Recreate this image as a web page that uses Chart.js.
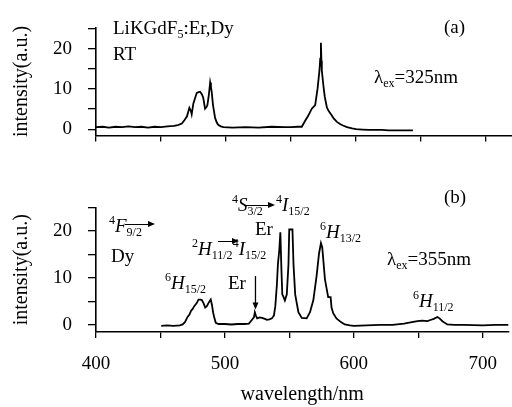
<!DOCTYPE html>
<html><head><meta charset="utf-8">
<script src="https://cdn.jsdelivr.net/npm/chart.js@4/dist/chart.umd.min.js"></script>
<style>
html,body{margin:0;padding:0;background:#fff;}
#wrap{position:relative;width:512px;height:407px;overflow:hidden;font-family:"Liberation Serif","Times New Roman",serif;color:#000;}
#ca{position:absolute;left:0;top:0;}
#cb{position:absolute;left:0;top:180px;}
.t{position:absolute;white-space:nowrap;font-size:19px;line-height:1;}
.t i{font-style:italic;}
.sp{position:relative;font-size:12px;top:-8px;}
.sb{position:relative;font-size:12px;top:4px;}
.ar{position:absolute;height:0;border-top:1.3px solid #000;}
.ar::after{content:"";position:absolute;right:-2px;top:-4px;border-left:7px solid #000;border-top:3px solid transparent;border-bottom:3px solid transparent;}
</style>
</head><body>
<div id="wrap">
<canvas id="ca" width="512" height="163"></canvas>
<canvas id="cb" width="512" height="227"></canvas>

<div class="t" style="left:113px;top:18px">LiKGdF<span class="sb">5</span>:Er,Dy</div>
<div class="t" style="left:113px;top:44px">RT</div>
<div class="t" style="left:444px;top:17px">(a)</div>
<div class="t" style="left:374px;top:67px">λ<span class="sb">ex</span>=325nm</div>

<div class="t" style="left:444px;top:187px">(b)</div>
<div class="t" style="left:109px;top:216px"><span class="sp">4</span><i>F</i><span class="sb">9/2</span></div>
<div class="ar" style="left:125px;top:224px;width:28px"></div>
<div class="t" style="left:111px;top:246px">Dy</div>
<div class="t" style="left:192px;top:239px"><span class="sp">2</span><i>H</i><span class="sb">11/2</span><span class="sp">4</span><i>I</i><span class="sb">15/2</span></div>
<div class="ar" style="left:218px;top:241px;width:19px"></div>
<div class="t" style="left:228px;top:273px">Er</div>
<div class="t" style="left:165px;top:273px"><span class="sp">6</span><i>H</i><span class="sb">15/2</span></div>
<div class="t" style="left:232px;top:195px"><span class="sp">4</span><i>S</i><span class="sb">3/2</span></div>
<div class="ar" style="left:245px;top:205px;width:28px"></div>
<div class="t" style="left:276px;top:195px"><span class="sp">4</span><i>I</i><span class="sb">15/2</span></div>
<div class="t" style="left:255px;top:219px">Er</div>
<div class="t" style="left:320px;top:222px"><span class="sp">6</span><i>H</i><span class="sb">13/2</span></div>
<div class="t" style="left:387px;top:249px">λ<span class="sb">ex</span>=355nm</div>
<div class="t" style="left:413px;top:291px"><span class="sp">6</span><i>H</i><span class="sb">11/2</span></div>
</div>
<script>
// ---- data (panel a, excitation 325 nm) ----
const wavelengthA = [400,405,410,415,420,425,430,435,440,445,450,455,460,463,466,468,470,471.8,473,473.6,474.9,476,477.5,479,480,481.4,482.5,483.9,485,485.7,486.8,487.8,488.4,489,490,491.6,493,494,496,498,505,515,525,535,545,550,555,558.3,560.9,563,566,568.6,570.4,571.9,572.5,573,573.4,573.7,575,576,577.6,579,581.4,583,585.3,588,590,593,597,600,605,610,615,620,625,630,635,640,643.8];
const intensityA = [0.5,0.6,0.4,0.6,0.5,0.7,0.5,0.6,0.4,0.6,0.5,0.7,0.8,1.0,1.4,2.2,3.2,5.3,4.5,3.7,6.4,7.5,9.0,9.2,9.3,8.7,7.8,5.1,5.5,6.0,8.5,11.6,10.5,9.3,6.0,2.8,1.6,1.1,0.7,0.5,0.4,0.5,0.4,0.6,0.5,0.5,0.6,0.6,2.1,3.2,5.1,6.0,10,14.6,17.5,21.5,17,14.6,10.6,8.0,5.4,4.5,3.4,2.6,1.8,1.2,0.9,0.5,0.2,0,-0.1,-0.2,-0.2,-0.2,-0.3,-0.3,-0.3,-0.3,-0.3];
// ---- data (panel b, excitation 355 nm) ----
const wavelengthB = [450.6,455,460,465,467.2,469,471,472.5,473.7,475,476.2,478,479.5,481,482.1,483.5,484.7,486,487.5,489,490,490.8,492,492.9,495,500,505,510,515,518.6,521,522.5,523.2,524,525,527,528.8,531,532.6,534.5,536.5,538,539.1,540.3,541.1,542.2,543,543.8,544.5,545.5,546.5,548,549.3,549.9,551,552.4,553.2,554.5,557,559.6,563.4,566,568.6,571.1,573,574.5,575.5,577.6,580.1,582,582.7,584,586.5,590,593,597,600,610,620,630,639,645,649.4,653,657,660,662,664.8,666.5,668.7,672.5,678,685,700,710,720];
const intensityB = [-0.2,-0.1,-0.2,-0.1,0.1,0.6,1.7,2.2,3.0,3.4,4.0,4.6,5.4,5.4,5.3,4.6,3.7,4.0,4.8,5.4,4.2,2.7,1.3,0.45,0.2,0.2,0.1,0.2,0.2,0.3,1.1,1.6,2.7,2.0,1.4,1.6,1.5,1.3,1.1,1.2,1.4,2.0,4.0,8.5,12.9,16,19.7,12,6.5,5.9,5.2,6.5,12.9,20.3,20.3,20.3,12.9,6.5,2.7,1.5,1.4,2.7,5.3,10.4,15.2,17.4,16.5,9.7,5.9,5.9,3.7,2.5,1.4,0.6,0.1,-0.1,-0.2,-0.1,0,0,0.3,0.6,0.8,0.9,0.8,1.1,1.3,1.7,1.4,0.8,0.1,0,0,-0.1,0,0];
const xTicks = [400,450,500,550,600,650,700];
const xTickLabels = [400,500,600,700];
const yTicks = [0,5,10,15,20,25];
const yTickLabels = [0,10,20];
const arrowB = {x:523.7, from:10.4, to:3.3};

const FAM = '"Liberation Serif","Times New Roman",serif';

function pts(xs, ys){ return xs.map((x,i)=>({x, y: ys[i]})); }

function makeOptions(yMin, yMax, showX){
  return {
    responsive:false, animation:false, devicePixelRatio:1,
    layout:{padding:{top:15,left:0,right:0,bottom:0}},
    plugins:{legend:{display:false}, tooltip:{enabled:false}},
    elements:{point:{radius:0}, line:{tension:0}},
    scales:{
      x:{
        type:'linear', min:400, max:720,
        afterBuildTicks: s => { s.ticks = xTicks.map(v => ({value:v})); },
        afterFit: s => { s.height = showX ? 75 : 10; },
        ticks:{autoSkip:false, maxRotation:0, minRotation:0, color:'#000', padding:15,
               font:{family:FAM, size:19},
               callback: v => (showX && xTickLabels.includes(v)) ? String(v) : ''},
        grid:{drawOnChartArea:false, drawTicks:true, tickLength:6, color:'#000', lineWidth:1.3},
        border:{display:true, color:'#000', width:1.6},
        title:{display:showX, text:'wavelength/nm', color:'#000', font:{family:FAM, size:20, lineHeight:1.2}, padding:{top:0,bottom:0}}
      },
      y:{
        type:'linear', min:yMin, max:yMax,
        afterBuildTicks: s => { s.ticks = yTicks.filter(v => v <= yMax).map(v => ({value:v})); },
        afterFit: s => { s.width = 96; },
        ticks:{autoSkip:false, color:'#000', padding:16, font:{family:FAM, size:19},
               callback: v => yTickLabels.includes(v) ? String(v) : ''},
        grid:{drawOnChartArea:false, drawTicks:true, tickLength:8, color:'#000', lineWidth:1.3},
        border:{display:true, color:'#000', width:1.6},
        title:{display:true, text:'intensity(a.u.)', color:'#000', font:{family:FAM, size:20, lineHeight:1.2}, padding:{top:10,bottom:0}}
      }
    }
  };
}

const ds = (data) => ({data, borderColor:'#000', borderWidth:1.8, fill:false, pointRadius:0});

new Chart(document.getElementById('ca'), {
  type:'line',
  data:{datasets:[ds(pts(wavelengthA, intensityA))]},
  options: makeOptions(-1.6, 25.3, false)
});

const arrowPlugin = {
  id:'vArrow',
  afterDatasetsDraw(chart){
    const {ctx, scales:{x, y}} = chart;
    const px = x.getPixelForValue(arrowB.x);
    const y1 = y.getPixelForValue(arrowB.from);
    const y2 = y.getPixelForValue(arrowB.to);
    ctx.save();
    ctx.strokeStyle = '#000'; ctx.fillStyle = '#000'; ctx.lineWidth = 1.3;
    ctx.beginPath(); ctx.moveTo(px, y1); ctx.lineTo(px, y2 - 5); ctx.stroke();
    ctx.beginPath(); ctx.moveTo(px, y2); ctx.lineTo(px - 3, y2 - 7); ctx.lineTo(px + 3, y2 - 7); ctx.closePath(); ctx.fill();
    ctx.restore();
  }
};

new Chart(document.getElementById('cb'), {
  type:'line',
  data:{datasets:[ds(pts(wavelengthB, intensityB))]},
  options: makeOptions(-1.5, 25, true),
  plugins:[arrowPlugin]
});
</script>
</body></html>
